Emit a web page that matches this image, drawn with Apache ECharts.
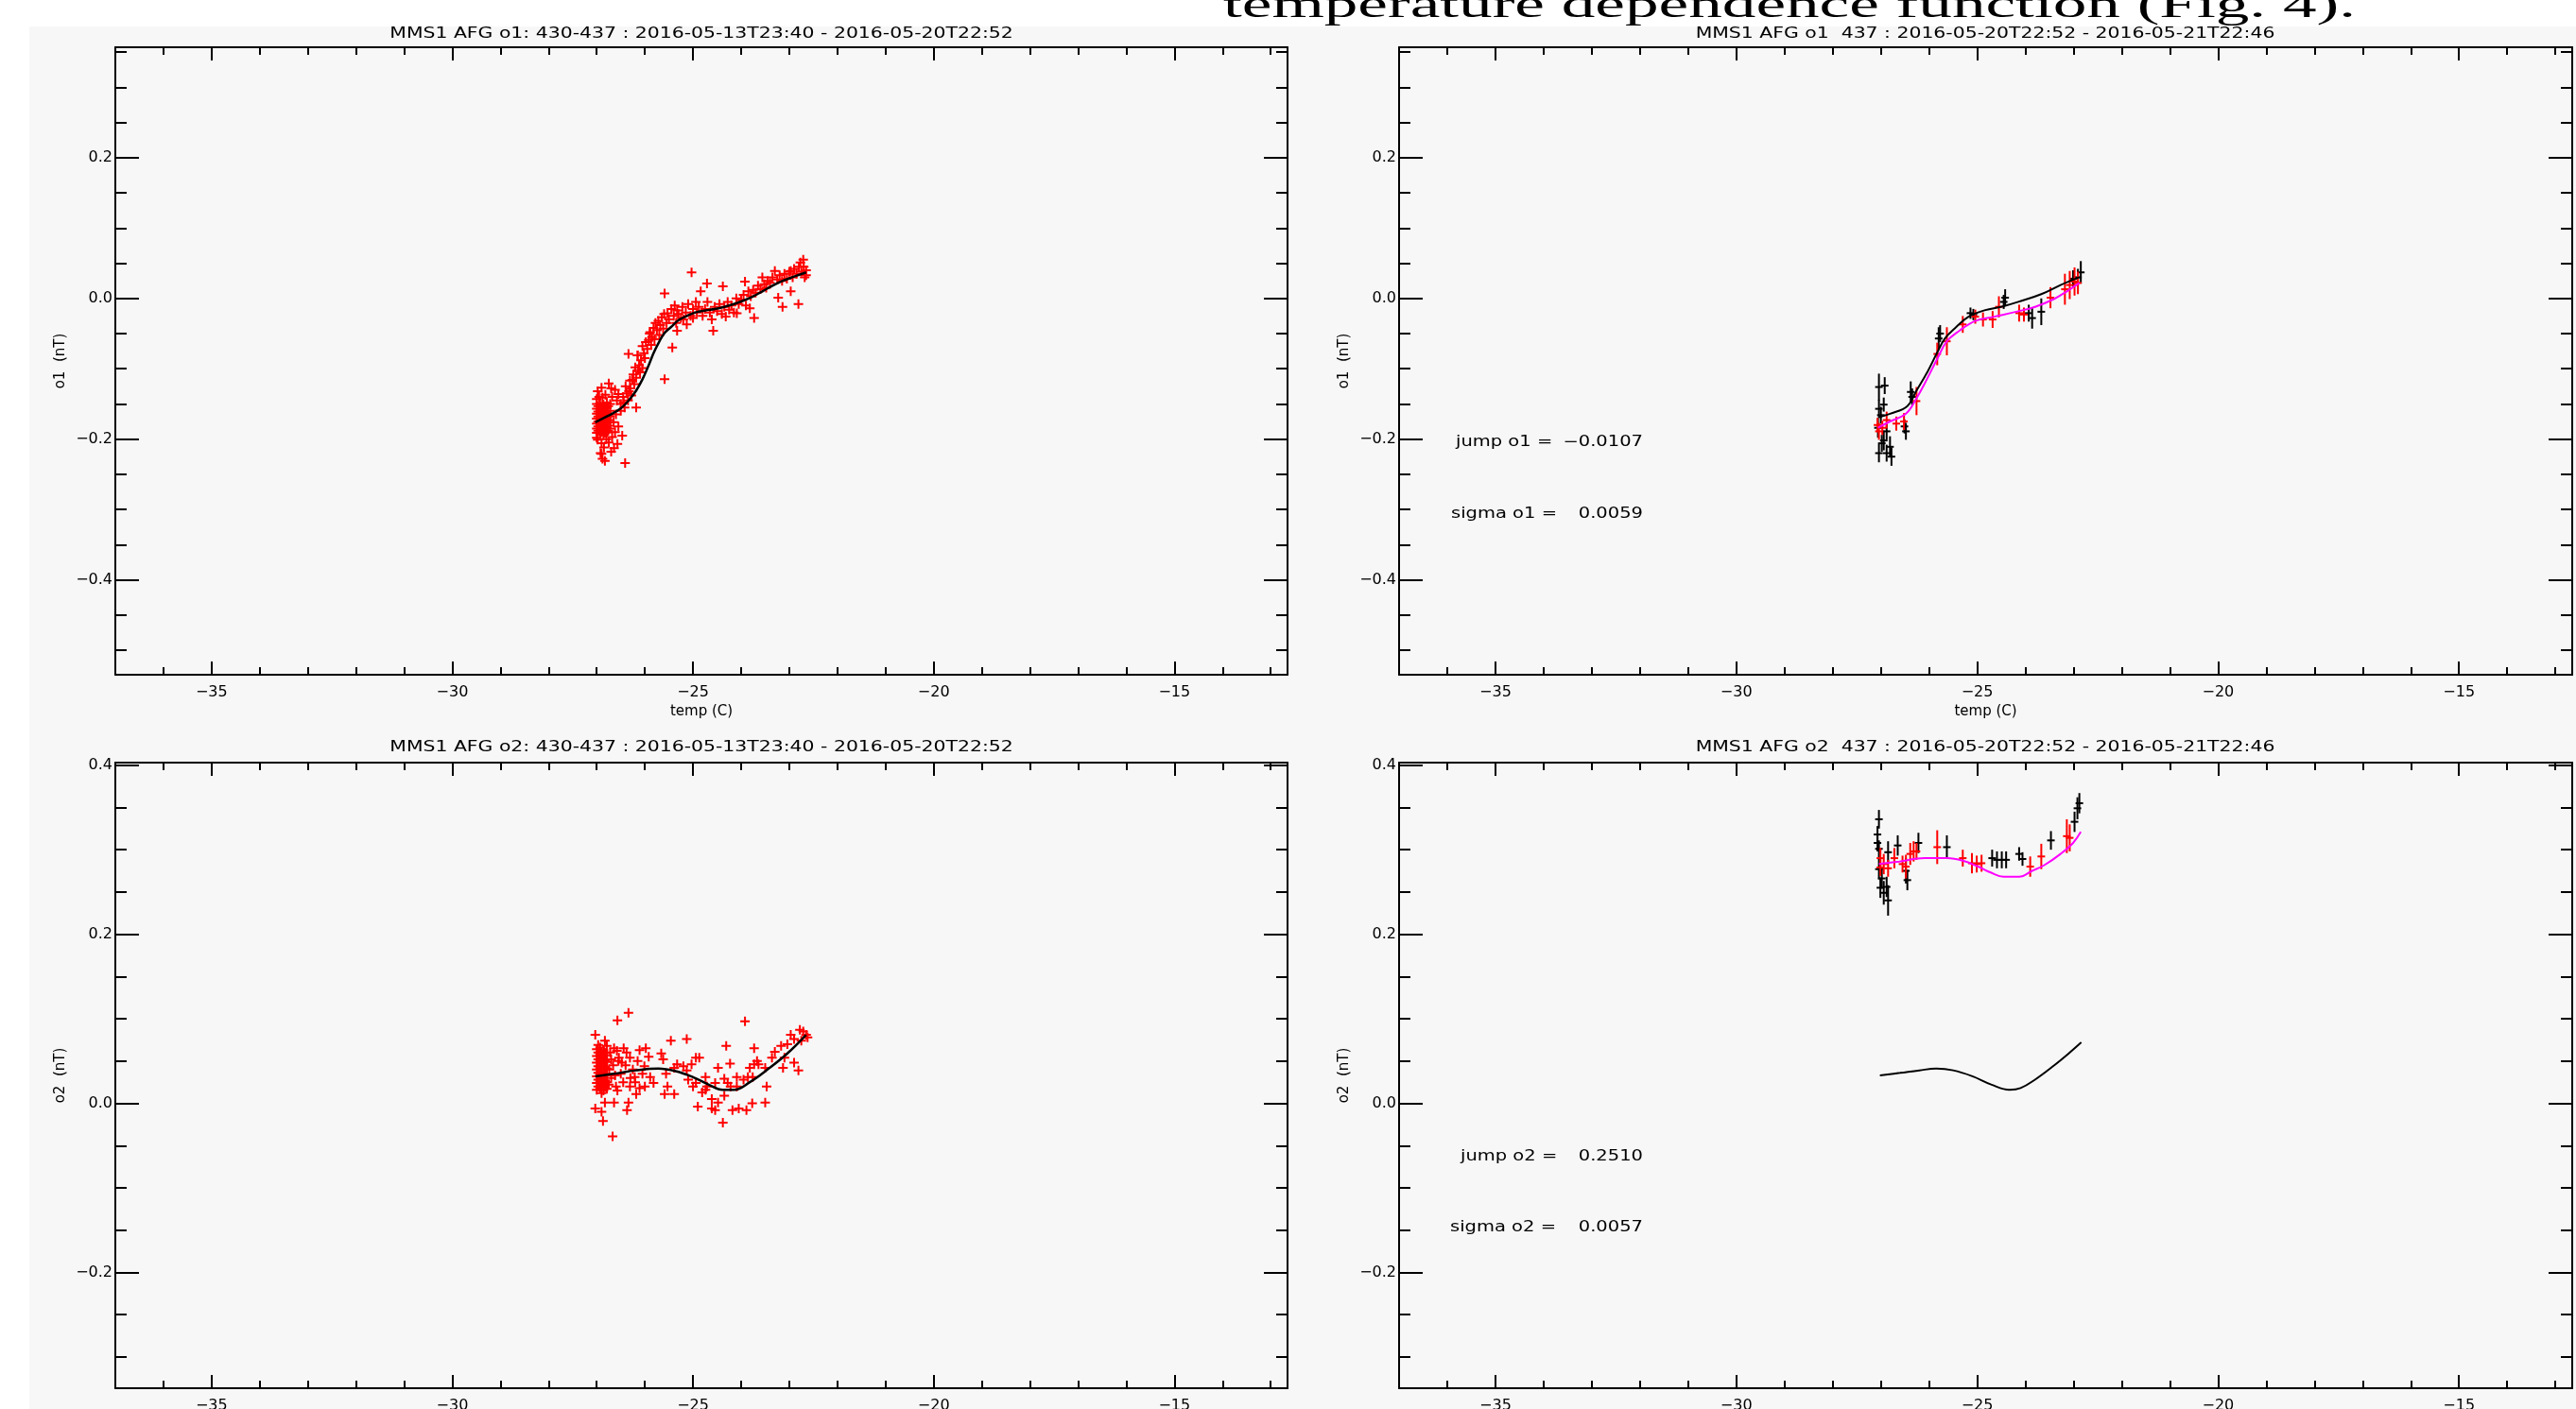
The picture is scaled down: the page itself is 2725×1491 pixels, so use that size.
<!DOCTYPE html>
<html>
<head>
<meta charset="utf-8">
<title>MMS1 AFG offsets vs temperature</title>
<script src="https://cdn.jsdelivr.net/npm/echarts@6/dist/echarts.min.js"></script>
<style>
html, body { margin: 0; padding: 0; background: #fff; }
#chart { width: 2725px; height: 1491px; }
</style>
</head>
<body>
<div id="chart"></div>
<script>
// axes
var xRange = [-37, -12.65];
var xMajor = [-35, -30, -25, -20, -15];
var xMinor = [-36, -34, -33, -32, -31, -29, -28, -27, -26, -24, -23, -22, -21, -19, -18, -17, -16, -14, -13];
var o1Range = [-0.535, 0.357];
var o1Major = [-0.4, -0.2, 0, 0.2];
var o1Minor = [-0.5, -0.45, -0.35, -0.3, -0.25, -0.15, -0.1, -0.05, 0.05, 0.1, 0.15, 0.25, 0.3, 0.35];
var o2Range = [-0.337, 0.403];
var o2Major = [-0.2, 0, 0.2, 0.4];
var o2Minor = [-0.3, -0.25, -0.15, -0.1, -0.05, 0.05, 0.1, 0.15, 0.25, 0.3, 0.35];

var panelTitles = [
    'MMS1 AFG o1: 430-437 : 2016-05-13T23:40 - 2016-05-20T22:52',
    'MMS1 AFG o1  437 : 2016-05-20T22:52 - 2016-05-21T22:46',
    'MMS1 AFG o2: 430-437 : 2016-05-13T23:40 - 2016-05-20T22:52',
    'MMS1 AFG o2  437 : 2016-05-20T22:52 - 2016-05-21T22:46'
];
var yNames = ['o1  (nT)', 'o1  (nT)', 'o2  (nT)', 'o2  (nT)'];
var jumpLabels = ['jump o1 =', 'sigma o1 =', 'jump o2 =', 'sigma o2 ='];
var jumpValues = ['\u22120.0107', '0.0059', '0.2510', '0.0057'];

// o1, 430-437 : red crosses
var o1Points430 = [
    [-27.0,-0.150],[-27.0,-0.157],[-27.0,-0.164],[-27.0,-0.171],[-27.0,-0.178],[-27.0,-0.185],[-27.0,-0.191],
    [-26.93,-0.149],[-26.93,-0.158],[-26.93,-0.165],[-26.93,-0.172],[-26.93,-0.179],[-26.93,-0.186],[-26.93,-0.193],
    [-26.86,-0.151],[-26.86,-0.159],[-26.86,-0.166],[-26.86,-0.173],[-26.86,-0.180],[-26.86,-0.187],[-26.86,-0.194],
    [-26.79,-0.148],[-26.79,-0.156],[-26.79,-0.163],[-26.79,-0.170],[-26.79,-0.177],[-26.79,-0.184],[-26.79,-0.190],
    [-26.72,-0.150],[-26.72,-0.160],[-26.72,-0.168],[-26.72,-0.176],[-26.72,-0.185],
    [-26.97,-0.153],[-26.97,-0.161],[-26.97,-0.168],[-26.97,-0.175],[-26.97,-0.182],[-26.97,-0.188],
    [-26.9,-0.154],[-26.9,-0.162],[-26.9,-0.169],[-26.9,-0.176],[-26.9,-0.183],[-26.9,-0.190],
    [-26.83,-0.155],[-26.83,-0.162],[-26.83,-0.169],[-26.83,-0.176],[-26.83,-0.183],[-26.83,-0.191],
    [-26.76,-0.153],[-26.76,-0.166],[-26.76,-0.173],[-26.76,-0.181],[-26.76,-0.188],
    [-26.98,-0.132],[-26.9,-0.127],[-26.82,-0.137],[-26.75,-0.121],[-26.68,-0.140],[-26.62,-0.130],[-26.95,-0.140],
    [-26.7,-0.128],[-26.58,-0.145],[-26.55,-0.136],[-26.88,-0.141],[-27.0,-0.143],
    [-26.98,-0.201],[-26.9,-0.206],[-26.85,-0.212],[-26.8,-0.200],[-26.92,-0.220],[-26.88,-0.228],[-26.75,-0.205],
    [-26.68,-0.197],[-26.62,-0.190],[-26.65,-0.176],[-26.6,-0.165],[-26.55,-0.182],[-26.5,-0.160],[-26.47,-0.195],
    [-26.41,-0.234],[-26.83,-0.231],[-26.9,-0.221],[-26.64,-0.213],[-26.57,-0.207],[-26.7,-0.218],[-27.0,-0.198],
    [-26.5,-0.150],[-26.45,-0.140],[-26.42,-0.155],[-26.4,-0.125],[-26.38,-0.135],[-26.35,-0.145],[-26.31,-0.117],
    [-26.3,-0.128],[-26.28,-0.138],[-26.24,-0.108],[-26.22,-0.122],[-26.2,-0.098],[-26.18,-0.113],[-26.18,-0.155],
    [-26.15,-0.081],[-26.12,-0.095],[-26.1,-0.105],[-26.08,-0.088],[-26.05,-0.068],[-26.05,-0.099],[-26.02,-0.078],
    [-26.0,-0.085],[-25.98,-0.062],[-25.95,-0.072],[-25.92,-0.059],[-25.9,-0.050],[-25.89,-0.048],[-25.87,-0.066],
    [-25.85,-0.055],[-25.82,-0.042],[-25.8,-0.058],[-25.78,-0.035],[-25.75,-0.045],[-25.72,-0.032],[-25.7,-0.052],
    [-25.68,-0.038],[-25.65,-0.027],[-25.62,-0.043],[-25.59,-0.115],[-25.59,0.007],[-25.6,-0.022],[-25.55,-0.035],
    [-26.34,-0.079],[-26.15,-0.081],[-26.26,-0.116],[-26.14,-0.102],[-26.33,-0.132],[-26.44,-0.148],
    [-25.53,-0.021],[-25.5,-0.030],[-25.45,-0.015],[-25.43,-0.070],[-25.4,-0.025],[-25.38,-0.010],[-25.35,-0.035],
    [-25.33,-0.046],[-25.33,-0.017],[-25.3,-0.022],[-25.25,-0.028],[-25.22,-0.012],[-25.2,-0.030],[-25.15,-0.020],
    [-25.13,-0.037],[-25.1,-0.008],[-25.05,-0.025],[-25.03,0.037],[-25.0,-0.028],[-25.0,-0.015],[-24.94,-0.005],
    [-24.92,-0.020],[-24.88,-0.012],[-24.84,0.010],[-24.8,-0.025],[-24.75,-0.015],[-24.71,0.021],[-24.7,-0.005],
    [-24.65,-0.020],[-24.61,-0.030],[-24.58,-0.046],[-24.55,-0.012],[-24.5,-0.018],[-24.45,-0.008],[-24.4,-0.022],
    [-24.38,0.017],[-24.35,-0.012],[-24.32,-0.026],[-24.28,-0.005],[-24.25,-0.016],[-24.2,-0.010],[-24.15,-0.020],
    [-24.1,0.000],[-24.09,-0.021],[-24.05,-0.008],
    [-24.0,-0.002],[-23.95,0.005],[-23.92,0.024],[-23.9,-0.010],[-23.85,0.010],[-23.82,-0.014],[-23.8,0.003],
    [-23.75,0.012],[-23.73,-0.028],[-23.7,0.008],[-23.65,0.018],[-23.6,0.013],[-23.56,0.030],[-23.52,0.020],
    [-23.48,0.015],[-23.45,0.025],[-23.4,0.022],[-23.35,0.030],[-23.3,0.039],[-23.25,0.027],[-23.23,0.001],
    [-23.2,0.033],[-23.15,0.025],[-23.14,-0.012],[-23.1,0.035],[-23.05,0.028],[-23.0,0.038],[-22.97,0.039],
    [-22.97,0.010],[-22.93,0.030],[-22.9,0.042],[-22.85,0.035],[-22.81,-0.008],[-22.8,0.045],[-22.77,0.051],
    [-22.75,0.038],[-22.71,0.055],[-22.7,0.045],[-22.68,0.030],[-22.65,0.033],[-22.65,0.040]
];
var o1Fit430 = [
    [-27.03,-0.176],[-26.8,-0.168],[-26.51,-0.157],[-26.3,-0.142],[-26.18,-0.131],[-26.05,-0.115],[-25.92,-0.095],
    [-25.82,-0.078],[-25.72,-0.064],[-25.6,-0.050],[-25.46,-0.041],[-25.3,-0.031],[-25.13,-0.025],[-24.95,-0.020],
    [-24.74,-0.017],[-24.55,-0.015],[-24.35,-0.012],[-24.15,-0.008],[-23.95,-0.003],[-23.75,0.003],[-23.56,0.010],
    [-23.35,0.018],[-23.17,0.024],[-22.9,0.031],[-22.65,0.037]
];

// o1, 437 : [temp, value, half error]
var o1Bars437Black = [
    [-27.04,-0.126,0.019],[-26.92,-0.124,0.012],[-27.04,-0.157,0.013],[-26.94,-0.151,0.010],[-27.0,-0.166,0.012],
    [-27.06,-0.184,0.014],[-26.88,-0.189,0.012],[-26.94,-0.202,0.014],[-26.81,-0.211,0.015],[-27.04,-0.220,0.013],
    [-26.88,-0.220,0.012],[-26.78,-0.225,0.013],[-26.98,-0.206,0.012],[-26.48,-0.189,0.012],[-26.51,-0.182,0.010],
    [-26.38,-0.133,0.015],[-26.35,-0.140,0.012],[-25.80,-0.057,0.016],[-25.77,-0.050,0.012],[-25.14,-0.021,0.008],
    [-25.08,-0.023,0.008],[-24.42,0.001,0.012],[-24.45,-0.005,0.010],[-23.93,-0.021,0.012],[-23.86,-0.028,0.015],
    [-23.67,-0.019,0.019],[-23.01,0.028,0.012],[-22.85,0.037,0.016],[-22.91,0.030,0.012]
];
var o1Bars437Red = [
    [-27.07,-0.180,0.010],[-27.04,-0.189,0.012],[-26.97,-0.184,0.010],[-26.88,-0.173,0.012],[-26.68,-0.178,0.010],
    [-26.52,-0.175,0.012],[-26.26,-0.146,0.020],[-25.83,-0.079,0.016],[-25.63,-0.061,0.020],[-25.30,-0.037,0.012],
    [-25.04,-0.026,0.010],[-24.88,-0.030,0.010],[-24.68,-0.030,0.012],[-24.55,-0.012,0.015],[-24.13,-0.021,0.012],
    [-24.03,-0.023,0.010],[-23.48,0.001,0.015],[-23.18,0.013,0.022],[-23.08,0.019,0.020],[-22.98,0.024,0.020],
    [-22.91,0.022,0.016]
];
var o1Model437 = [
    [-27.04,-0.169],[-26.81,-0.164],[-26.45,-0.153],[-26.26,-0.131],[-26.03,-0.104],[-25.83,-0.077],[-25.67,-0.057],
    [-25.44,-0.041],[-25.18,-0.026],[-24.85,-0.017],[-24.45,-0.011],[-24.06,-0.003],[-23.67,0.006],[-23.27,0.019],
    [-22.88,0.030]
];
var o1Fit437 = [
    [-27.06,-0.184],[-26.81,-0.175],[-26.48,-0.164],[-26.26,-0.142],[-26.03,-0.113],[-25.83,-0.086],[-25.63,-0.061],
    [-25.37,-0.046],[-25.04,-0.032],[-24.65,-0.026],[-24.19,-0.019],[-23.80,-0.012],[-23.41,-0.001],[-23.14,0.010],
    [-22.88,0.022]
];

// o2, 430-437 : red crosses
var o2Points430 = [
    [-27.0,0.016],[-27.0,0.024],[-27.0,0.032],[-27.0,0.040],[-27.0,0.048],[-27.0,0.056],[-27.0,0.064],
    [-26.93,0.018],[-26.93,0.026],[-26.93,0.034],[-26.93,0.042],[-26.93,0.050],[-26.93,0.058],[-26.93,0.066],
    [-26.86,0.015],[-26.86,0.023],[-26.86,0.031],[-26.86,0.039],[-26.86,0.047],[-26.86,0.055],[-26.86,0.063],
    [-26.79,0.017],[-26.79,0.025],[-26.79,0.033],[-26.79,0.041],[-26.79,0.049],[-26.79,0.057],[-26.79,0.068],
    [-26.97,0.020],[-26.97,0.028],[-26.97,0.036],[-26.97,0.044],[-26.97,0.052],[-26.97,0.060],[-26.97,0.069],
    [-26.9,0.012],[-26.9,0.021],[-26.9,0.029],[-26.9,0.037],[-26.9,0.045],[-26.9,0.053],[-26.9,0.061],
    [-26.83,0.019],[-26.83,0.027],[-26.83,0.035],[-26.83,0.043],[-26.83,0.051],[-26.83,0.060],
    [-26.72,0.060],[-26.7,0.030],[-26.66,0.045],[-26.6,0.020],[-26.55,0.050],[-26.5,0.035],[-26.45,0.025],
    [-26.4,0.045],[-26.38,0.060],[-26.3,0.030],[-26.25,0.040],[-26.2,0.025],[-26.15,0.050],[-26.05,0.035],[-26.0,0.020],
    [-26.74,0.040],[-26.7,0.052],[-26.75,0.022],[-26.62,0.033],[-26.58,0.062],[-26.48,0.048],
    [-27.03,0.081],[-26.83,0.074],[-26.57,0.098],[-26.34,0.107],[-26.67,-0.039],[-26.87,-0.021],[-26.9,-0.010],
    [-27.03,-0.006],[-26.83,0.001],[-26.64,0.001],[-26.37,-0.008],[-26.34,0.001],[-26.64,0.065],[-26.44,0.065],
    [-26.54,0.054],[-26.31,0.054],[-26.21,0.031],[-26.11,0.063],[-25.98,0.065],[-25.92,0.055],[-26.01,0.044],
    [-26.31,0.020],[-26.11,0.018],[-26.57,0.015],[-26.18,0.011],[-25.89,0.031],[-25.82,0.024],[-25.66,0.059],
    [-25.62,0.052],[-25.46,0.074],[-25.13,0.076],[-25.56,0.035],[-25.53,0.020],[-25.59,0.011],[-25.39,0.011],
    [-25.39,0.042],[-25.33,0.046],[-25.2,0.044],[-25.13,0.039],[-25.1,0.028],[-25.03,0.046],[-24.94,0.054],
    [-24.87,0.054],[-24.94,0.024],[-25.0,0.020],[-24.74,0.031],[-24.71,0.020],[-24.74,0.016],[-24.61,0.005],
    [-24.9,-0.004],[-24.61,-0.006],[-24.54,-0.008],[-24.48,0.042],[-24.31,0.068],[-24.23,0.047],[-23.92,0.097],
    [-23.73,0.065],[-24.38,-0.023],[-24.48,0.001],[-24.35,0.009],[-24.28,0.024],[-24.22,0.020],[-24.09,0.020],
    [-23.95,0.028],[-23.86,0.031],[-24.18,-0.008],[-24.05,-0.006],[-23.89,-0.008],[-23.77,0.000],[-23.5,0.001],
    [-23.73,0.046],[-23.64,0.046],[-23.67,0.050],[-23.47,0.020],[-23.3,0.061],[-23.17,0.068],[-23.1,0.054],
    [-23.13,0.042],[-22.97,0.081],[-22.9,0.076],[-22.81,0.039],[-22.9,0.048],[-22.78,0.087],[-22.71,0.085],
    [-22.65,0.081],[-22.75,0.074],[-22.62,0.078],[-23.04,0.070],[-23.36,0.054],[-23.5,0.042],[-23.76,0.031],
    [-24.09,0.031],[-24.54,0.024],[-24.35,0.029],[-24.81,0.013],[-23.82,0.042]
];
var o2Fit430 = [
    [-27.03,0.032],[-26.64,0.035],[-26.18,0.039],[-25.72,0.041],[-25.36,0.038],[-25.0,0.031],[-24.67,0.022],
    [-24.38,0.016],[-24.15,0.016],[-23.82,0.025],[-23.43,0.041],[-23.04,0.059],[-22.65,0.081]
];

// o2, 437
var o2Bars437Black = [
    [-27.04,0.336,0.011],[-27.07,0.318,0.010],[-27.07,0.308,0.010],[-27.04,0.301,0.010],[-27.04,0.277,0.012],
    [-26.98,0.266,0.012],[-27.01,0.255,0.012],[-26.94,0.249,0.014],[-26.88,0.256,0.012],[-26.85,0.240,0.018],
    [-26.85,0.297,0.013],[-26.65,0.305,0.012],[-26.48,0.275,0.015],[-26.45,0.264,0.012],[-26.22,0.308,0.012],
    [-25.63,0.303,0.014],[-24.69,0.290,0.010],[-24.59,0.288,0.010],[-24.49,0.288,0.010],[-24.40,0.288,0.010],
    [-24.13,0.295,0.008],[-24.06,0.289,0.008],[-23.47,0.311,0.011],[-22.98,0.333,0.012],[-22.92,0.349,0.013],
    [-22.88,0.355,0.012]
];
var o2Bars437Red = [
    [-27.01,0.290,0.012],[-27.01,0.279,0.010],[-26.94,0.283,0.012],[-26.85,0.278,0.010],[-26.72,0.290,0.012],
    [-26.55,0.283,0.010],[-26.48,0.280,0.014],[-26.39,0.295,0.013],[-26.32,0.298,0.012],[-26.26,0.298,0.010],
    [-25.83,0.303,0.020],[-25.30,0.290,0.010],[-25.11,0.284,0.012],[-25.01,0.283,0.010],[-24.91,0.284,0.010],
    [-23.90,0.280,0.012],[-23.67,0.292,0.015],[-23.14,0.316,0.020],[-23.08,0.314,0.016]
];
var o2Model437 = [
    [-27.02,0.033],[-26.6,0.036],[-26.2,0.039],[-25.85,0.041],[-25.5,0.039],[-25.1,0.032],[-24.7,0.022],
    [-24.33,0.016],[-24.1,0.018],[-23.8,0.028],[-23.4,0.045],[-23.1,0.059],[-22.84,0.072]
];
var o2Fit437 = [
    [-27.04,0.283],[-26.62,0.286],[-26.09,0.290],[-25.63,0.290],[-25.30,0.287],[-24.98,0.280],[-24.72,0.273],
    [-24.45,0.268],[-24.13,0.268],[-23.86,0.275],[-23.60,0.282],[-23.27,0.295],[-23.01,0.308],[-22.85,0.321]
];

var FONT = '"DejaVu Sans", sans-serif';
var panels = [
    {left: 122, top: 50, width: 1240, height: 664, yr: o1Range, ymaj: o1Major, ymin: o1Minor},
    {left: 1480, top: 50, width: 1241, height: 664, yr: o1Range, ymaj: o1Major, ymin: o1Minor},
    {left: 122, top: 807, width: 1240, height: 662, yr: o2Range, ymaj: o2Major, ymin: o2Minor},
    {left: 1480, top: 807, width: 1241, height: 662, yr: o2Range, ymaj: o2Major, ymin: o2Minor}
];

function minusFmt(digits) {
    return function (v) {
        var s = Math.abs(v).toFixed(digits);
        return v < 0 ? '\u2212' + s : s;
    };
}

function makeAxis(gi, pos, range, ticks, len, main, labels, name, fmt) {
    var isX = pos === 'bottom' || pos === 'top';
    return {
        type: 'value', gridIndex: gi, position: pos,
        min: range[0], max: range[1],
        name: name || '', nameLocation: 'middle',
        nameGap: isX ? 32 : 50,
        nameRotate: isX ? 0 : 90,
        nameTextStyle: {color: '#000', fontFamily: FONT, fontSize: 15},
        axisLine: {show: main, onZero: false, lineStyle: {color: '#000', width: 2}},
        axisTick: {show: true, inside: true, length: len, customValues: ticks,
            lineStyle: {color: '#000', width: 2}},
        axisLabel: {show: !!labels, customValues: labels || ticks, color: '#000',
            fontFamily: FONT, fontSize: 16, margin: isX ? 11 : 3, formatter: fmt},
        splitLine: {show: false},
        splitArea: {show: false}
    };
}

var grids = [], xAxes = [], yAxes = [];
panels.forEach(function (p, gi) {
    grids.push({left: p.left, top: p.top, width: p.width, height: p.height,
        containLabel: false, outerBoundsMode: 'none', show: false});
    xAxes.push(makeAxis(gi, 'bottom', xRange, xMajor, 14, true, xMajor, 'temp (C)', minusFmt(0)));
    xAxes.push(makeAxis(gi, 'bottom', xRange, xMinor, 8, false));
    xAxes.push(makeAxis(gi, 'top', xRange, xMajor, 14, true));
    xAxes.push(makeAxis(gi, 'top', xRange, xMinor, 8, false));
    yAxes.push(makeAxis(gi, 'left', p.yr, p.ymaj, 25, true, p.ymaj, yNames[gi], minusFmt(1)));
    yAxes.push(makeAxis(gi, 'left', p.yr, p.ymin, 12, false));
    yAxes.push(makeAxis(gi, 'right', p.yr, p.ymaj, 25, true));
    yAxes.push(makeAxis(gi, 'right', p.yr, p.ymin, 12, false));
});

var PLUS = 'path://M4,0H6V10H4Z M0,4H10V6H0Z';

function crosses(gi, data) {
    return {type: 'scatter', xAxisIndex: gi * 4, yAxisIndex: gi * 4, data: data,
        symbol: PLUS, symbolSize: 10, itemStyle: {color: '#ff0000', opacity: 1}, z: 2};
}

function curve(gi, data, color, w) {
    return {type: 'line', xAxisIndex: gi * 4, yAxisIndex: gi * 4, data: data,
        showSymbol: false, smooth: 0.4, lineStyle: {color: color, width: w}, z: 5};
}

function errorBars(gi, data, color) {
    return {
        type: 'custom', xAxisIndex: gi * 4, yAxisIndex: gi * 4, data: data, z: 3,
        encode: {x: 0, y: 1},
        renderItem: function (params, api) {
            var c = api.coord([api.value(0), api.value(1)]);
            var hi = api.coord([api.value(0), api.value(1) + api.value(2)]);
            var lo = api.coord([api.value(0), api.value(1) - api.value(2)]);
            var st = {stroke: color, lineWidth: 2};
            return {type: 'group', children: [
                {type: 'line', shape: {x1: c[0], y1: hi[1], x2: c[0], y2: lo[1]}, style: st},
                {type: 'line', shape: {x1: c[0] - 4, y1: c[1], x2: c[0] + 4, y2: c[1]}, style: st}
            ]};
        }
    };
}

function label(x, y, text, align) {
    return {type: 'text', x: x, y: y, scaleX: 1.3,
        style: {text: text, font: '15px ' + FONT, fill: '#000',
            align: align, textAlign: align, verticalAlign: 'middle', textVerticalAlign: 'middle'}};
}

var graphics = [
    {type: 'rect', shape: {x: 0, y: 0, width: 2725, height: 28}, style: {fill: '#fff'}, z: -10},
    {type: 'rect', shape: {x: 0, y: 0, width: 31, height: 1491}, style: {fill: '#fff'}, z: -10},
    {type: 'text', x: 1294, y: 7, scaleX: 1.78,
        style: {text: 'temperature dependence function (Fig. 4).', font: '40px "Liberation Serif", serif',
            fill: '#000', align: 'left', textAlign: 'left', verticalAlign: 'middle', textVerticalAlign: 'middle'}}
];
var titleCenters = [[742, 36], [2100, 36], [742, 791], [2100, 791]];
panelTitles.forEach(function (t, i) {
    var g = label(titleCenters[i][0], titleCenters[i][1], t, 'center');
    g.scaleX = 1.36;
    graphics.push(g);
});
// jump / sigma notes on the 437 panels
var noteRows = [[1540, 468], [1535, 544], [1545, 1224], [1534, 1299]];
noteRows.forEach(function (r, i) {
    graphics.push(label(r[0], r[1], jumpLabels[i], 'left'));
    graphics.push(label(1738, r[1], jumpValues[i], 'right'));
});

var option = {
    animation: false,
    backgroundColor: '#f7f7f7',
    graphic: {elements: graphics},
    grid: grids,
    xAxis: xAxes,
    yAxis: yAxes,
    series: [
        crosses(0, o1Points430),
        curve(0, o1Fit430, '#000', 2.5),
        errorBars(1, o1Bars437Black, '#000'),
        errorBars(1, o1Bars437Red, '#ff0000'),
        curve(1, o1Model437, '#000', 2),
        curve(1, o1Fit437, '#ff00ff', 2),
        crosses(2, o2Points430),
        curve(2, o2Fit430, '#000', 2.5),
        errorBars(3, o2Bars437Black, '#000'),
        errorBars(3, o2Bars437Red, '#ff0000'),
        curve(3, o2Fit437, '#ff00ff', 2),
        curve(3, o2Model437, '#000', 2)
    ]
};

var myChart = echarts.init(document.getElementById('chart'));
myChart.setOption(option);
</script>
</body>
</html>
